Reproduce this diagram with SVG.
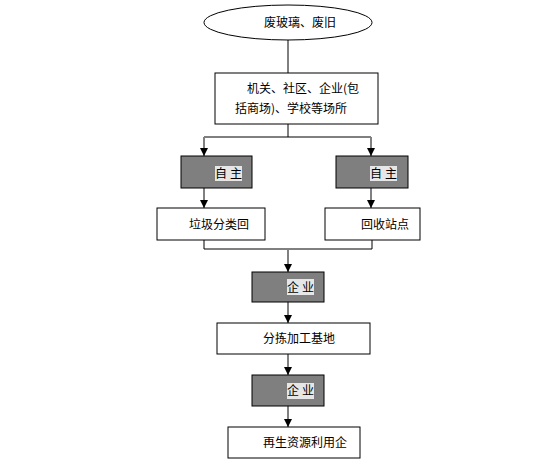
<svg xmlns="http://www.w3.org/2000/svg" width="552" height="469" viewBox="0 0 552 469">
<defs>
<marker id="ah" viewBox="0 0 8 8" refX="8" refY="4" markerWidth="8" markerHeight="8" markerUnits="userSpaceOnUse" orient="auto">
<path d="M0,0 L8,4 L0,8 z" fill="#000"/>
</marker>
<style>
.box{fill:#fff;stroke:#000;stroke-width:1}
.dark{fill:#7f7f7f;stroke:#000;stroke-width:1}
.hl{fill:#e6e6e6}
.t{font-family:"Noto Sans CJK SC","Liberation Sans",sans-serif;font-size:12px;fill:#000}
.ln{fill:none;stroke:#000;stroke-width:1}
.ar{fill:none;stroke:#808080;stroke-width:2}
</style>
</defs>
<rect width="552" height="469" fill="#fff"/>
<g id="connectors">
<line class="ln" x1="288" y1="40" x2="288" y2="73"/>
<polyline class="ln" points="288,124 288,137"/>
<polyline class="ln" points="204,137 371,137"/>
<line class="ar" x1="204" y1="137" x2="204" y2="156" marker-end="url(#ah)"/>
<line class="ar" x1="371" y1="137" x2="371" y2="156" marker-end="url(#ah)"/>
<line class="ar" x1="204" y1="188" x2="204" y2="208" marker-end="url(#ah)"/>
<line class="ar" x1="371" y1="188" x2="371" y2="208" marker-end="url(#ah)"/>
<polyline class="ln" points="204,240 204,249 372,249 372,240"/>
<line class="ar" x1="288" y1="249" x2="288" y2="272" marker-end="url(#ah)"/>
<line class="ar" x1="288" y1="302" x2="288" y2="323" marker-end="url(#ah)"/>
<line class="ar" x1="288" y1="354" x2="288" y2="375" marker-end="url(#ah)"/>
<line class="ar" x1="288" y1="406" x2="288" y2="427" marker-end="url(#ah)"/>
</g>
<g id="n1">
<ellipse class="box" cx="288" cy="22.5" rx="84" ry="17.5"/>
<text class="t" x="300" y="27" text-anchor="middle">废玻璃、废旧</text>
</g>
<g id="n2">
<rect class="box" x="215" y="73" width="163" height="51"/>
<text class="t" x="247" y="93">机关、社区、企业(包</text>
<text class="t" x="235" y="113">括商场)、学校等场所</text>
</g>
<g id="n3">
<rect class="dark" x="181" y="156" width="71" height="32"/>
<rect class="hl" x="215" y="166" width="27" height="15"/>
<text class="t" x="215" y="178" letter-spacing="3">自主</text>
</g>
<g id="n4">
<rect class="dark" x="336" y="156" width="72" height="32"/>
<rect class="hl" x="370" y="166" width="27" height="15"/>
<text class="t" x="370" y="178" letter-spacing="3">自主</text>
</g>
<g id="n5">
<rect class="box" x="157" y="208" width="108" height="32"/>
<text class="t" x="189" y="229">垃圾分类回</text>
</g>
<g id="n6">
<rect class="box" x="325" y="208" width="95" height="32"/>
<text class="t" x="361" y="229">回收站点</text>
</g>
<g id="n7">
<rect class="dark" x="252" y="272" width="72" height="30"/>
<rect class="hl" x="287" y="279" width="27" height="16"/>
<text class="t" x="287" y="292" letter-spacing="3">企业</text>
</g>
<g id="n8">
<rect class="box" x="217" y="323" width="153" height="31"/>
<text class="t" x="263" y="343">分拣加工基地</text>
</g>
<g id="n9">
<rect class="dark" x="252" y="375" width="72" height="31"/>
<rect class="hl" x="287" y="383" width="27" height="16"/>
<text class="t" x="287" y="395" letter-spacing="3">企业</text>
</g>
<g id="n10">
<rect class="box" x="228" y="427" width="132" height="31"/>
<text class="t" x="263" y="447">再生资源利用企</text>
</g>
</svg>
